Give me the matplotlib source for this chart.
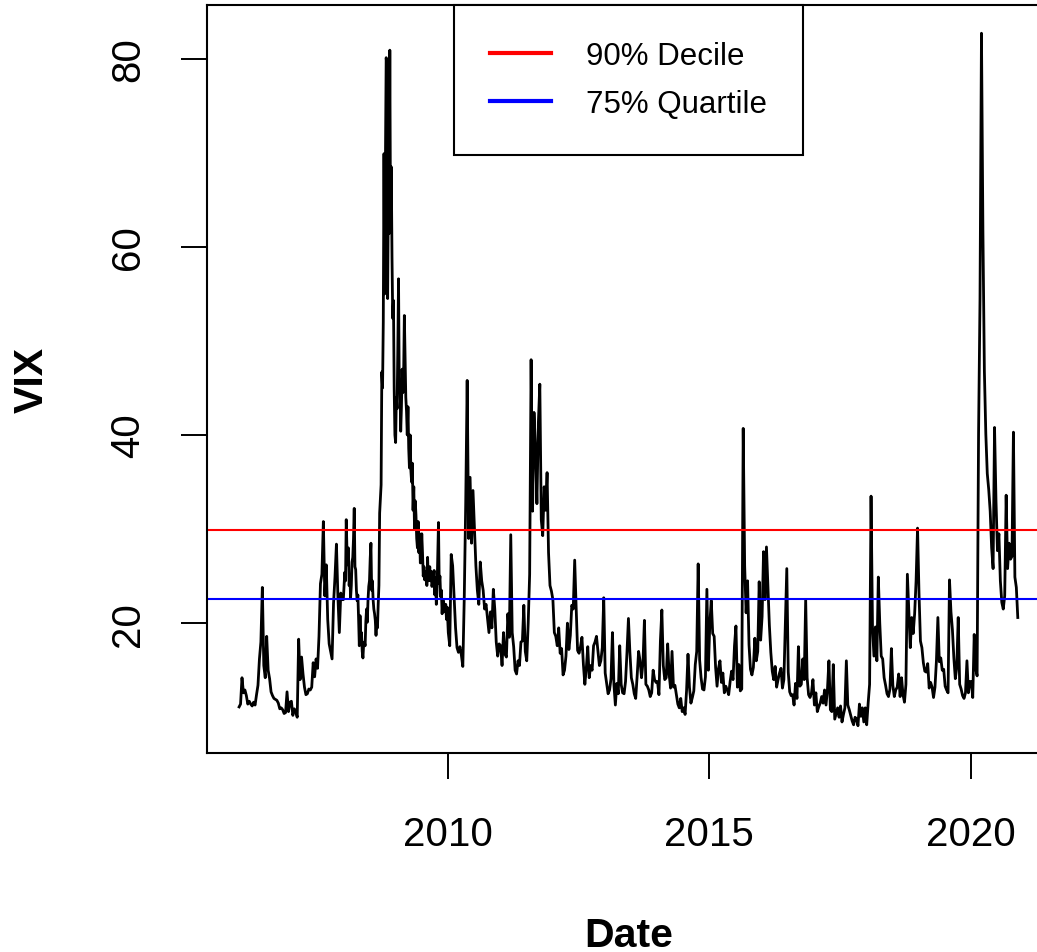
import numpy as np
import matplotlib
matplotlib.use('Agg')
import matplotlib.pyplot as plt
from matplotlib.lines import Line2D

plt.rcParams['font.family'] = ['Liberation Sans', 'DejaVu Sans']

# VIX closes, about 3 readings a month (6 a month in 2008/2009)
vix_2006 = [11.1, 11.4, 14.2, 12.6, 12.9, 12.3, 11.4, 11.7, 11.4, 11.2, 11.6, 11.3,
            12.4, 13.4, 16.2, 18.0, 23.8, 15.5, 14.2, 18.6, 15.0, 14.1, 12.7, 12.3,
            12.0, 11.9, 11.8, 11.5, 10.9, 11.0, 10.8, 10.4, 10.5, 12.7, 10.6, 11.6]
vix_2007 = [11.7, 10.2, 10.9, 10.6, 10.0, 18.3, 14.0, 16.4, 14.6, 13.2, 12.4, 12.5,
            13.0, 12.9, 13.2, 15.8, 14.3, 16.2, 15.2, 18.6, 24.2, 25.2, 30.8, 22.9,
            26.2, 20.4, 17.8, 17.0, 16.2, 22.1, 24.9, 28.4, 22.9, 19.0, 23.2, 22.5]
vix_2008 = [22.5, 23.9, 25.4, 24.5, 31.0, 27.8, 26.2, 28.0, 24.0, 25.0, 22.7, 24.0,
            26.5, 27.0, 29.0, 32.2, 26.0, 25.7, 23.5, 22.4, 23.0, 20.5, 17.6, 20.8,
            18.5, 19.0, 17.0, 16.3, 17.8, 18.0, 17.6, 20.2, 21.5, 20.1, 22.5, 23.9,
            24.5, 26.9, 28.5, 23.5, 24.5, 22.5, 21.5, 21.0, 20.3, 18.7, 20.5, 19.5,
            22.0, 24.0, 31.7, 33.1, 34.7, 46.7, 45.0, 52.0, 69.9, 55.0, 69.6, 80.1,
            79.1, 54.5, 66.0, 61.4, 80.9, 62.0, 68.5, 58.9, 52.4, 54.3, 44.9, 40.0]
vix_2009 = [39.2, 44.0, 42.8, 49.0, 56.6, 45.0, 44.8, 40.4, 43.0, 47.0, 44.5, 46.3,
            52.7, 48.0, 44.0, 42.5, 40.0, 43.0, 38.6, 36.5, 40.0, 36.2, 35.0, 37.0,
            32.0, 34.5, 30.0, 33.0, 31.5, 29.0, 28.0, 30.8, 27.5, 29.5, 26.4, 27.0,
            29.5, 27.5, 25.0, 26.0, 24.6, 25.5, 25.5, 24.0, 27.0, 24.5, 25.0, 26.0,
            24.5, 25.5, 23.9, 24.5, 24.7, 25.6, 23.0, 24.8, 22.0, 23.5, 27.0, 30.7,
            24.2, 25.0, 22.8, 23.5, 21.0, 22.5, 22.3, 21.5, 21.2, 22.0, 20.4, 21.7]
vix_2010 = [19.0, 17.6, 27.3, 26.1, 22.7, 19.5, 17.4, 16.9, 17.5, 16.6, 15.4, 22.8,
            32.8, 45.8, 29.0, 35.5, 28.5, 34.1, 30.0, 26.1, 23.5, 22.0, 26.5, 24.5,
            23.5, 21.5, 22.0, 20.5, 19.0, 21.2, 19.5, 23.6, 21.5, 18.0, 16.5, 17.8]
vix_2011 = [17.6, 15.5, 19.0, 16.7, 16.4, 21.0, 18.5, 29.4, 19.0, 17.5, 15.0, 14.6,
            16.0, 15.5, 18.0, 18.1, 21.9, 17.0, 16.0, 20.0, 25.2, 48.0, 31.9, 42.4,
            38.5, 32.7, 41.3, 45.4, 31.0, 29.3, 34.5, 32.0, 36.0, 27.5, 24.0, 23.4]
vix_2012 = [22.5, 19.0, 18.6, 17.6, 19.5, 16.8, 17.3, 14.5, 15.0, 16.5, 20.0, 17.2,
            18.7, 21.9, 21.5, 26.7, 21.7, 17.1, 16.8, 17.5, 18.5, 15.6, 13.5, 15.2,
            17.5, 14.2, 15.5, 15.0, 17.6, 18.0, 18.6, 17.0, 15.5, 16.0, 17.4, 22.7]
vix_2013 = [14.7, 13.6, 12.5, 12.9, 14.1, 19.0, 13.5, 11.3, 13.6, 12.5, 17.6, 13.5,
            12.6, 12.5, 13.8, 16.9, 20.5, 16.9, 14.2, 13.5, 12.5, 12.0, 14.4, 17.0,
            16.0, 14.2, 15.8, 20.3, 13.5, 13.3, 12.9, 12.2, 12.6, 15.0, 14.0, 13.7]
vix_2014 = [13.8, 12.4, 18.1, 21.4, 15.5, 14.0, 14.2, 17.8, 14.6, 13.1, 17.0, 13.2,
            13.4, 12.4, 11.4, 11.0, 12.0, 10.6, 11.0, 10.3, 12.8, 16.7, 13.2, 11.5,
            12.1, 12.8, 15.6, 17.0, 26.3, 16.1, 14.2, 13.0, 12.9, 14.3, 23.6, 15.0]
vix_2015 = [19.9, 22.4, 18.9, 18.6, 15.3, 13.3, 15.2, 16.0, 13.7, 14.7, 12.6, 13.3,
            12.9, 12.4, 13.8, 14.9, 14.0, 17.6, 19.7, 13.2, 15.6, 12.8, 13.0, 40.7,
            26.1, 21.1, 24.5, 17.7, 15.1, 14.5, 15.3, 18.4, 16.0, 17.0, 24.4, 18.2]
vix_2016 = [20.7, 27.6, 22.5, 28.1, 24.1, 19.8, 16.9, 14.9, 14.0, 15.4, 13.2, 14.0,
            14.7, 15.2, 13.1, 14.0, 20.1, 25.8, 14.8, 12.7, 12.3, 12.4, 11.3, 13.6,
            12.0, 17.5, 13.3, 13.5, 16.2, 14.0, 22.5, 14.2, 12.4, 12.1, 12.6, 14.0]
vix_2017 = [11.3, 12.6, 10.6, 11.1, 11.5, 12.2, 11.5, 12.9, 11.3, 13.0, 16.0, 10.8,
            10.6, 15.6, 9.8, 10.4, 11.0, 10.0, 11.2, 9.5, 10.3, 11.0, 16.0, 11.3,
            10.8, 10.2, 9.6, 9.2, 10.0, 9.8, 9.1, 11.4, 10.1, 11.0, 9.5, 11.0]
vix_2018 = [9.2, 11.5, 13.5, 33.5, 19.5, 16.5, 19.6, 16.0, 24.9, 20.0, 16.5, 16.2,
            14.2, 13.4, 12.5, 12.2, 13.0, 17.3, 13.4, 12.2, 12.9, 13.2, 14.6, 12.2,
            14.2, 12.4, 11.6, 13.5, 25.2, 21.2, 17.4, 20.6, 18.9, 21.0, 24.5, 30.1]
vix_2019 = [23.2, 18.1, 17.4, 15.8, 14.9, 14.8, 15.7, 13.1, 13.7, 13.2, 12.1, 13.2,
            16.0, 20.6, 15.9, 16.3, 15.0, 15.1, 13.3, 12.9, 12.6, 24.6, 21.2, 19.3,
            16.3, 14.1, 15.3, 20.6, 13.5, 13.0, 12.3, 12.0, 12.6, 16.0, 12.6, 13.8]
vix_2020 = [13.8, 12.1, 18.8, 15.2, 14.4, 40.1, 54.5, 82.7, 61.6, 46.8, 40.1, 35.9,
            34.2, 31.9, 28.0, 25.8, 40.8, 33.0, 27.7, 29.5, 24.5, 22.2, 21.5, 22.9,
            33.6, 25.8, 28.5, 26.8, 27.1, 40.3, 24.9, 23.8, 20.6]

years = list(range(2006, 2021))
series = [vix_2006, vix_2007, vix_2008, vix_2009, vix_2010, vix_2011, vix_2012,
          vix_2013, vix_2014, vix_2015, vix_2016, vix_2017, vix_2018, vix_2019, vix_2020]
per_year = {2008: 72, 2009: 72}

decile_90 = 29.9
quartile_75 = 22.55

# build decimal-year time axis
dates, values = [], []
for year, vals in zip(years, series):
    n = per_year.get(year, 36)
    for i, v in enumerate(vals):
        dates.append(year + (i + 0.5) / n)
        values.append(v)

fig = plt.figure(figsize=(10.37, 9.53), dpi=100)
ax = fig.add_axes([0.1996, 0.2088, 0.8130, 0.7849])

ax.plot(dates, values, color='black', linewidth=2.0)
ax.axhline(decile_90, color='red', linewidth=1.5)
ax.axhline(quartile_75, color='blue', linewidth=1.5)

ax.set_xlim(2005.40, 2021.52)
ax.set_ylim(6.2, 85.7)
ax.set_xticks([2010, 2015, 2020])
ax.set_xticklabels(['2010', '2015', '2020'])
ax.set_yticks([20, 40, 60, 80])
ax.set_yticklabels(['20', '40', '60', '80'], rotation=90, va='center')

for s in ax.spines.values():
    s.set_linewidth(1.5)
ax.tick_params(length=18.7, width=1.4, labelsize=29)
ax.tick_params(axis='x', pad=26)
ax.tick_params(axis='y', pad=24.5)

ax.set_xlabel('Date', fontsize=29.5, fontweight='bold')
ax.xaxis.set_label_coords(0.5, -0.243)
ax.xaxis.label.set_va('center')
ax.set_ylabel('VIX', fontsize=29.5, fontweight='bold')
ax.yaxis.set_label_coords(-0.208, 0.5)
ax.yaxis.label.set_va('center')
ax.yaxis.label.set_ha('center')

handles = [Line2D([], [], color='red', linewidth=3),
           Line2D([], [], color='blue', linewidth=3)]
leg = ax.legend(handles, ['90% Decile', '75% Quartile'], loc='upper center',
                bbox_to_anchor=(0.5, 1.0), borderaxespad=0, fontsize=22.5,
                handlelength=1.95, handletextpad=1.1, borderpad=1.15,
                labelspacing=0.57, fancybox=False, edgecolor='black', framealpha=1)
leg.get_frame().set_linewidth(1.5)

fig.savefig('out.png', dpi=100)
